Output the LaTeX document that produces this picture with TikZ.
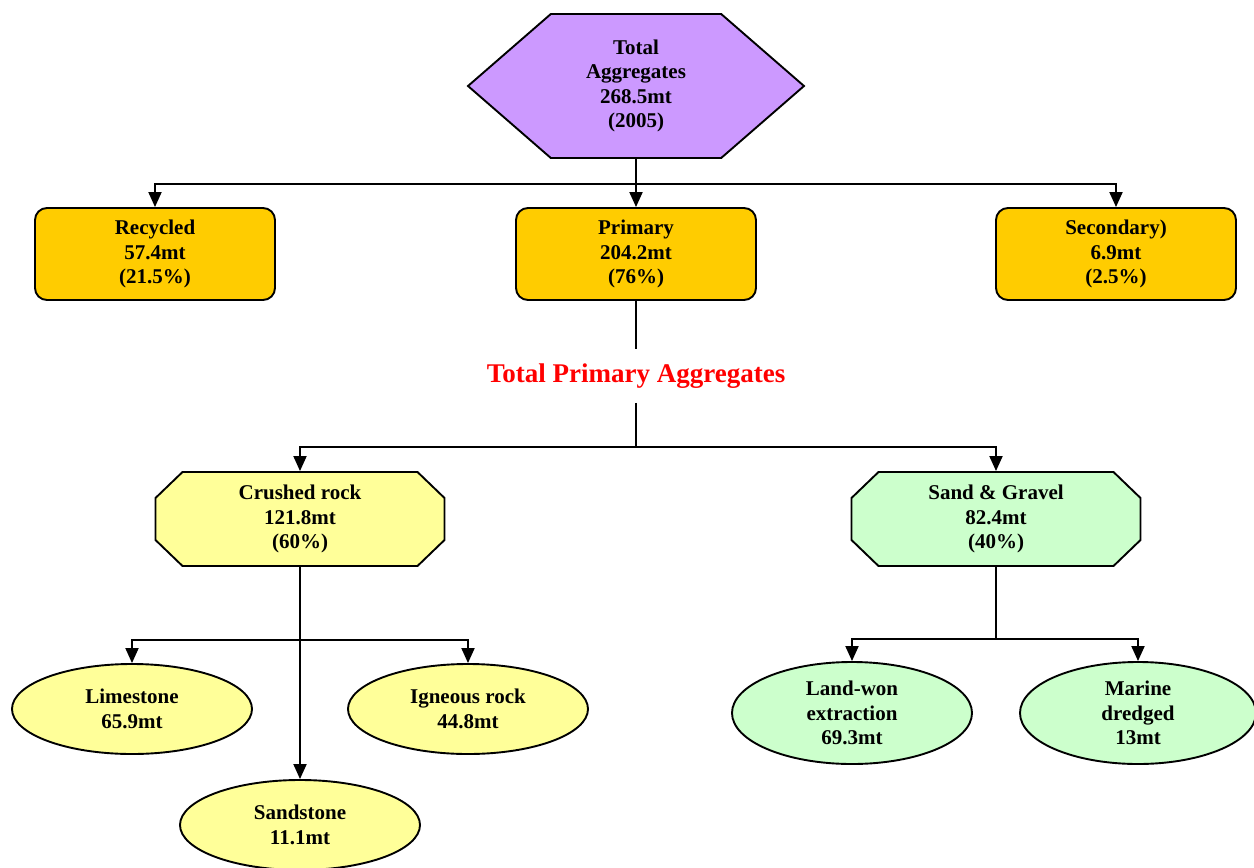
\documentclass[tikz,border=0pt]{standalone}
\usepackage{fontspec}
\setmainfont{Liberation Serif}
\usetikzlibrary{arrows.meta}
\usetikzlibrary{shapes.geometric, shapes.symbols}

\definecolor{purp}{HTML}{CC99FF}
\definecolor{gold}{HTML}{FFCC00}
\definecolor{paleyellow}{HTML}{FFFF99}
\definecolor{palegreen}{HTML}{CCFFCC}

\begin{document}
\begin{tikzpicture}[x=1pt, y=-1pt, line width=1.9pt,
                   >={Triangle[length=15pt,width=13pt]},
                   every node/.style={draw=black, align=center, font=\fontsize{21}{24.5}\selectfont\bfseries},
                   hexa/.style={signal, signal to=west and east, signal pointer angle=82, fill=purp,
                                minimum width=336pt, minimum height=144pt, inner sep=0pt},
                   box/.style={rectangle, rounded corners=12pt, fill=gold, minimum width=240pt, minimum height=92pt},
                   octa/.style={rectangle, draw=none, minimum width=289pt, minimum height=94pt},
                   ell/.style={ellipse, minimum width=240pt, minimum height=90pt, inner sep=0pt}]
\useasboundingbox (0,0) rectangle (1254,868);

\node[hexa] (tot) at (636,86) {Total\\Aggregates\\268.5mt\\(2005)};

\node[box] (rec) at (155,254) {Recycled\\57.4mt\\(21.5\%)};
\node[box] (pri) at (636,254) {Primary\\204.2mt\\(76\%)};
\node[box] (sec) at (1116,254) {Secondary)\\6.9mt\\(2.5\%)};

\node[draw=none, text=red, minimum height=52pt, inner sep=0pt,
      font=\fontsize{27}{30}\selectfont\bfseries] (ttl) at (636,376) {Total Primary Aggregates};

\foreach \x/\c in {300/paleyellow, 996/palegreen}
  \filldraw[fill=\c] (\x-117.5,472) -- (\x+117.5,472) -- (\x+144.5,498) -- (\x+144.5,540)
    -- (\x+117.5,566) -- (\x-117.5,566) -- (\x-144.5,540) -- (\x-144.5,498) -- cycle;
\node[octa] (cr) at (300,519) {Crushed rock\\121.8mt\\(60\%)};
\node[octa] (sg) at (996,519) {Sand \& Gravel\\82.4mt\\(40\%)};

\node[ell, fill=paleyellow] (ls) at (132,709) {Limestone\\65.9mt};
\node[ell, fill=paleyellow] (ig) at (468,709) {Igneous rock\\44.8mt};
\node[ell, fill=paleyellow] (ss) at (300,825) {Sandstone\\11.1mt};

\node[ell, fill=palegreen, minimum height=102pt] (lw) at (852,713) {Land-won\\extraction\\69.3mt};
\node[ell, fill=palegreen, minimum height=102pt, minimum width=236pt] (md) at (1138,713) {Marine\\dredged\\13mt};

\coordinate (j1) at (636,184);
\coordinate (j2) at (636,447);
\coordinate (j3) at (300,640);
\coordinate (j4) at (996,639);

\draw[->] (tot) -- (pri);
\draw[->] (j1) -| (rec.north);
\draw[->] (j1) -| (sec.north);

\draw (pri) -- (ttl);
\draw (ttl) -- (j2);
\draw[->] (j2) -| (cr.north);
\draw[->] (j2) -| (sg.north);

\draw[->] (cr) -- (ss);
\draw[->] (j3) -| (ls.north);
\draw[->] (j3) -| (ig.north);

\draw (sg) -- (j4);
\draw[->] (j4) -| (lw.north);
\draw[->] (j4) -| (md.north);
\end{tikzpicture}
\end{document}
